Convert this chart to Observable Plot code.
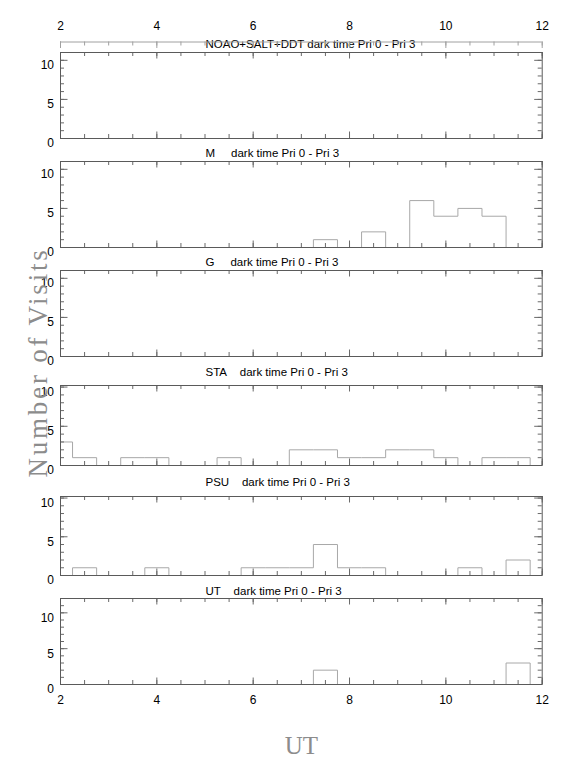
<!DOCTYPE html>
<html><head><meta charset="utf-8">
<script src="https://cdn.jsdelivr.net/npm/d3@7"></script>
<script src="https://cdn.jsdelivr.net/npm/@observablehq/plot@0.6"></script>
<style>
html,body{margin:0;padding:0;background:#fff;overflow:hidden}
#chart{position:relative;width:572px;height:762px;background:#fff}
#chart svg{position:absolute;left:0;top:0}
</style></head><body><div id="chart"></div>
<script>
// bin centres (UT hours), bin width 0.5
const centers = [2,2.5,3,3.5,4,4.5,5,5.5,6,6.5,7,7.5,8,8.5,9,9.5,10,10.5,11,11.5,12];
const noaoVisits = [0,0,0,0,0,0,0,0,0,0,0,0,0,0,0,0,0,0,0,0,0];
const mVisits    = [0,0,0,0,0,0,0,0,0,0,0,1,0,2,0,6,4,5,4,0,0];
const gVisits    = [0,0,0,0,0,0,0,0,0,0,0,0,0,0,0,0,0,0,0,0,0];
const staVisits  = [3,1,0,1,1,0,0,1,0,0,2,2,1,1,2,2,1,0,1,1,0];
const psuVisits  = [0,1,0,0,1,0,0,0,1,1,1,4,1,1,0,0,0,1,0,2,0];
const utVisits   = [0,0,0,0,0,0,0,0,0,0,0,2,0,0,0,0,0,0,0,3,0];
const panelNames = ["NOAO+SALT+DDT","M","G","STA","PSU","UT"];
const panelSep   = [" ","\u00a0\u00a0\u00a0\u00a0\u00a0","\u00a0\u00a0\u00a0\u00a0\u00a0","\u00a0\u00a0\u00a0\u00a0","\u00a0\u00a0\u00a0\u00a0","\u00a0\u00a0\u00a0\u00a0"];
const subtitle = "dark time Pri 0 - Pri 3";
const yMax = [11,11,11,10.2,10.2,12];
const xMinorTicks = [2,2.5,3,3.5,4,4.5,5,5.5,6,6.5,7,7.5,8,8.5,9,9.5,10,10.5,11,11.5,12];
const xMajorTicks = [2,4,6,8,10,12];
const yMinorTicks = [0,1,2,3,4,5,6,7,8,9,10,11,12];
const yMajorTicks = [0,5,10];
const xLabel = "UT";
const yLabel = "Number of Visits";

// layout (pixels)
const W = 572, H = 762, ML = 60, MR = 30.3;
const frameTops    = [52, 161, 270, 385, 496, 598];
const frameBottoms = [138, 247, 356, 465, 575, 684];
const titleYs      = [44, 153, 262, 372, 482, 591];
const seriesList = [noaoVisits, mVisits, gVisits, staVisits, psuVisits, utVisits];

const frameColor = "#5a5a5a", tickColor = "#6a6a6a", histColor = "#a8a8a8";
const sans = "'Liberation Sans', Arial, Helvetica, sans-serif";
const serif = "'Liberation Serif', 'DejaVu Serif', Times, serif";

function steps(values) {
  const pts = centers.map((c, i) => ({x: c - 0.25, y: values[i]}));
  pts.push({x: centers[centers.length - 1] + 0.25, y: values[values.length - 1]});
  return pts;
}

const chart = document.getElementById("chart");
seriesList.forEach((vals, k) => {
  const top = frameTops[k], bottom = frameBottoms[k], h = bottom - top, ymax = yMax[k];
  const fw = W - ML - MR;
  const yMin = yMinorTicks.filter(d => d <= ymax);
  const yMaj = yMajorTicks.filter(d => d <= ymax);
  const marks = [
    Plot.line(steps(vals), {x: "x", y: "y", curve: "step-after", stroke: histColor, strokeWidth: 1, clip: true}),
    Plot.ruleX(xMinorTicks, {x: d => d, insetTop: h - 4, stroke: tickColor}),
    Plot.ruleX(xMinorTicks, {x: d => d, insetBottom: h - 4, stroke: tickColor}),
    Plot.ruleX(xMajorTicks, {x: d => d, insetTop: h - 6.5, stroke: tickColor}),
    Plot.ruleX(xMajorTicks, {x: d => d, insetBottom: h - 6.5, stroke: tickColor}),
    Plot.ruleY(yMin, {y: d => d, insetRight: fw - 4, stroke: tickColor}),
    Plot.ruleY(yMin, {y: d => d, insetLeft: fw - 4, stroke: tickColor}),
    Plot.ruleY(yMaj, {y: d => d, insetRight: fw - 7.5, stroke: tickColor}),
    Plot.ruleY(yMaj, {y: d => d, insetLeft: fw - 7.5, stroke: tickColor}),
    Plot.frame({stroke: frameColor, strokeWidth: 1}),
    Plot.text(yMaj, {y: d => d, text: d => String(d), frameAnchor: "left", textAnchor: "end", lineAnchor: "middle", dx: -6.5, dy: 5, fontSize: 12, fill: "#000"}),
    Plot.text([panelNames[k] + panelSep[k] + subtitle], {text: d => d, frameAnchor: "top-left", textAnchor: "start", lineAnchor: "middle", dx: 145, dy: titleYs[k] - top, fontSize: 11.5, fill: "#000"})
  ];
  if (k === 0) {
    marks.push(
      Plot.ruleY([ymax], {y: d => d, dy: -10.5, stroke: "#a0a0a0"}),
      Plot.ruleX(xMinorTicks, {x: d => d, insetBottom: h - 4, dy: -10.5, stroke: "#a0a0a0"}),
      Plot.ruleX(xMajorTicks, {x: d => d, insetBottom: h - 6.5, dy: -10.5, stroke: "#a0a0a0"}),
      Plot.text(xMajorTicks, {x: d => d, text: d => String(d), frameAnchor: "top", lineAnchor: "middle", dy: 26 - top, fontSize: 12, fill: "#000"})
    );
  }
  if (k === seriesList.length - 1) {
    marks.push(
      Plot.text(xMajorTicks, {x: d => d, text: d => String(d), frameAnchor: "bottom", lineAnchor: "middle", dy: 700 - bottom, fontSize: 12, fill: "#000"}),
      Plot.text([xLabel], {text: d => d, frameAnchor: "bottom", lineAnchor: "middle", dy: 745 - bottom, fontSize: 25, fontFamily: serif, fill: "#8c8c8c"}),
      Plot.text([yLabel], {text: d => d, frameAnchor: "left", textAnchor: "middle", lineAnchor: "middle", rotate: -90, dx: 38 - ML, dy: 362 - (top + bottom) / 2, fontSize: 27, fontFamily: serif, fill: "#8c8c8c", className: "ylab"})
    );
  }
  const svg = Plot.plot({
    width: W, height: H,
    marginTop: top, marginBottom: H - bottom, marginLeft: ML, marginRight: MR,
    x: {domain: [2, 12], axis: null},
    y: {domain: [0, ymax], axis: null},
    style: `background: transparent; overflow: visible; font-family: ${sans};`,
    marks
  });
  d3.select(svg).selectAll(".ylab text").attr("letter-spacing", "2.8px");
  chart.appendChild(svg);
});
</script></body></html>
